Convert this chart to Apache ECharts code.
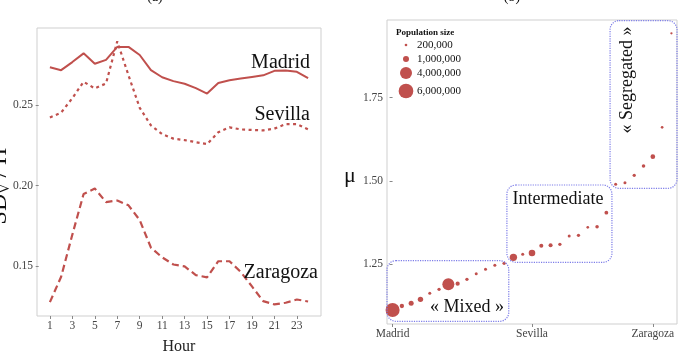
<!DOCTYPE html>
<html><head><meta charset="utf-8">
<script src="https://cdn.jsdelivr.net/npm/echarts@6/dist/echarts.min.js"></script>
<style>html,body{margin:0;padding:0;background:#fff}#c{width:681px;height:360px}</style>
</head><body><div id="c"></div>
<script>
// ---- Panel (a) data ----
const hours = [1,2,3,4,5,6,7,8,9,10,11,12,13,14,15,16,17,18,19,20,21,22,23,24];
const madrid = [0.2733,0.2715,0.2765,0.2819,0.2755,0.2779,0.2859,0.2859,0.2809,0.2715,0.2671,0.2647,0.2631,0.2604,0.2570,0.2635,0.2653,0.2663,0.2673,0.2683,0.2711,0.2713,0.2705,0.2665];
const sevilla = [0.2422,0.2452,0.2542,0.2643,0.2602,0.2633,0.2893,0.2683,0.2482,0.2373,0.2319,0.2291,0.2282,0.2269,0.2257,0.2331,0.2361,0.2348,0.2345,0.2342,0.2353,0.2381,0.2381,0.2348];
const zaragoza = [0.1279,0.1436,0.1697,0.1948,0.1982,0.1898,0.1908,0.1878,0.1787,0.1616,0.1556,0.1512,0.1500,0.1446,0.1432,0.1532,0.1532,0.1466,0.1376,0.1285,0.1265,0.1275,0.1295,0.1283];
const hourTicks = [1,3,5,7,9,11,13,15,17,19,21,23];
const sdTicks = [0.15,0.20,0.25];

// ---- Panel (b) data ----
const cityIndex = [0,1,2,3,4,5,6,7,8,9,10,11,12,13,14,15,16,17,18,19,20,21,22,23,24,25,26,27,28,29,30];
const mu = [1.113,1.125,1.133,1.145,1.163,1.175,1.190,1.192,1.205,1.222,1.235,1.247,1.253,1.271,1.280,1.284,1.306,1.307,1.310,1.335,1.337,1.361,1.363,1.405,1.490,1.495,1.517,1.545,1.573,1.661,1.943];
const population = [5500000,520000,700000,800000,250000,300000,4000000,500000,300000,250000,250000,250000,300000,1500000,250000,1200000,450000,450000,300000,250000,300000,200000,350000,400000,250000,250000,300000,350000,600000,200000,150000];
const cityTickIdx = [0,15,28];
const cityTickNames = ['Madrid','Sevilla','Zaragoza'];
const muTicks = [1.25,1.50,1.75];
const legendPops = [200000,1000000,4000000,6000000];
const legendLabels = ['200,000','1,000,000','4,000,000','6,000,000'];

const RED = '#c0504d';
const SERIF = '"Liberation Serif", "DejaVu Serif", serif';
const sz = p => 0.006*Math.sqrt(p);

const chart = echarts.init(document.getElementById('c'), null, {renderer:'canvas'});
const axisLabelStyle = {fontFamily: SERIF, fontSize: 11.5, color: '#444', margin: 4};
const tick = {show:true, length:3, lineStyle:{color:'#888'}};

const option = {
  animation:false,
  grid:[
    {left:37, top:28, width:284, height:296, show:true, borderColor:'#cfcfcf', borderWidth:1, backgroundColor:'#fff'},
    {left:387, top:20, width:290, height:304, show:true, borderColor:'#cfcfcf', borderWidth:1, backgroundColor:'#fff'}
  ],
  xAxis:[
    {type:'value', gridIndex:0, min:-0.15, max:25.15, splitLine:{show:false}, axisLine:{show:false},
     axisTick:Object.assign({customValues:hourTicks}, tick),
     axisLabel:Object.assign({customValues:hourTicks}, axisLabelStyle),
     name:'Hour', nameLocation:'middle', nameGap:23, nameTextStyle:{fontFamily:SERIF, fontSize:16, color:'#222'}},
    {type:'value', gridIndex:1, min:-0.6, max:30.6, splitLine:{show:false}, axisLine:{show:false},
     axisTick:Object.assign({customValues:cityTickIdx}, tick),
     axisLabel:Object.assign({customValues:cityTickIdx, formatter:v=>cityTickNames[cityTickIdx.indexOf(Math.round(v))]||''}, axisLabelStyle)}
  ],
  yAxis:[
    {type:'value', gridIndex:0, min:0.1193, max:0.2976, splitLine:{show:false}, axisLine:{show:false},
     axisTick:Object.assign({customValues:sdTicks}, tick),
     axisLabel:Object.assign({customValues:sdTicks, formatter:v=>v.toFixed(2)}, axisLabelStyle)},
    {type:'value', gridIndex:1, min:1.071, max:1.983, splitLine:{show:false}, axisLine:{show:false},
     axisTick:Object.assign({customValues:muTicks}, tick),
     axisLabel:Object.assign({customValues:muTicks, formatter:v=>v.toFixed(2)}, axisLabelStyle)}
  ],
  series:[
    {type:'line', xAxisIndex:0, yAxisIndex:0, data:hours.map((h,i)=>[h,madrid[i]]), symbol:'none', lineStyle:{color:RED, width:2}},
    {type:'line', xAxisIndex:0, yAxisIndex:0, data:hours.map((h,i)=>[h,sevilla[i]]), symbol:'none', lineStyle:{color:RED, width:2.2, type:[3,3.5]}},
    {type:'line', xAxisIndex:0, yAxisIndex:0, data:hours.map((h,i)=>[h,zaragoza[i]]), symbol:'none', lineStyle:{color:RED, width:2.2, type:[7,4]}},
    {type:'scatter', xAxisIndex:1, yAxisIndex:1, data:cityIndex.map((c,i)=>[c,mu[i],population[i]]),
     symbolSize:d=>sz(d[2]), itemStyle:{color:RED, opacity:1}}
  ]
};
chart.setOption(option);

// annotation boxes in data units of panel (b)
const boxes = [
  {x0:-0.6, x1:12.5, y0:1.079, y1:1.261},
  {x0:12.3, x1:23.6, y0:1.256, y1:1.488},
  {x0:23.4, x1:30.6, y0:1.478, y1:1.981}
];
const g = [];
boxes.forEach(b=>{
  const p0 = chart.convertToPixel({gridIndex:1},[b.x0,b.y1]);
  const p1 = chart.convertToPixel({gridIndex:1},[b.x1,b.y0]);
  g.push({type:'rect', shape:{x:p0[0], y:p0[1], width:p1[0]-p0[0], height:p1[1]-p0[1], r:9},
    style:{fill:null, stroke:'#7d7de8', lineWidth:1.2, lineDash:[1.2,1.2]}, z:5});
});
const txt = (x,y,t,size,align,extra)=>Object.assign({type:'text', x, y, z:10,
  style:{text:t, font:size+'px '+SERIF, fill:'#111', textAlign:align||'center', textVerticalAlign:'middle'}}, extra||{});
g.push(txt(310,63,'Madrid',20,'right'));
g.push(txt(310,115,'Sevilla',20,'right'));
g.push(txt(318,273,'Zaragoza',20,'right'));
g.push(txt(504,307,'« Mixed »',18,'right'));
g.push(txt(558,199,'Intermediate',18,'center'));
g.push(txt(627,80,'« Segregated »',18,'center',{rotation:Math.PI/2}));
g.push(txt(155,-3,'(a)',14,'center'));
g.push(txt(512,-3,'(b)',14,'center'));
g.push(txt(350,176,'μ',22,'center'));
g.push({type:'text', x:0, y:186, rotation:Math.PI/2, z:10,
  style:{rich:{a:{font:'24px '+SERIF, fill:'#111'}, s:{font:'14px '+SERIF, fill:'#111', padding:[11,0,0,0]}},
    text:'{a|SD}{s|V}{a| / H}', textAlign:'center', textVerticalAlign:'middle'}});
// size legend
g.push({type:'text', x:396, y:33, z:10, style:{text:'Population size', font:'bold 9px '+SERIF, fill:'#111', textAlign:'left', textVerticalAlign:'middle'}});
const legY = [45,59,73,91];
legendPops.forEach((p,i)=>{
  g.push({type:'circle', shape:{cx:406, cy:legY[i], r:sz(p)/2}, style:{fill:RED}, z:10});
  g.push(txt(417,legY[i],legendLabels[i],11,'left'));
});
chart.setOption({graphic:g});
</script></body></html>
